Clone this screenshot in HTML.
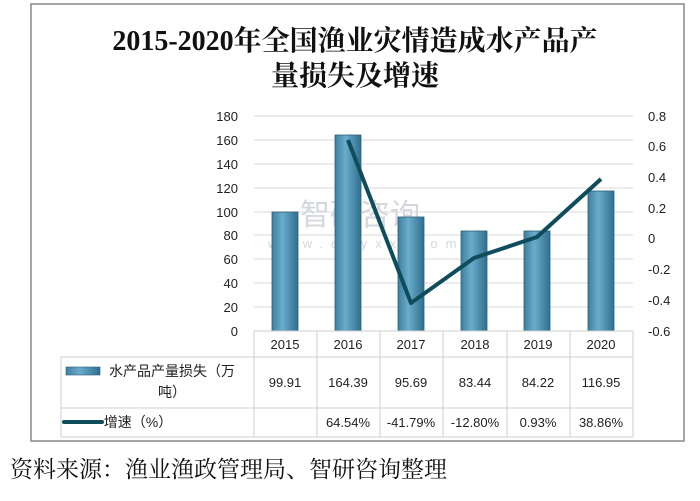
<!DOCTYPE html>
<html><head><meta charset="utf-8"><style>
body{margin:0;width:700px;height:501px;background:#fff;overflow:hidden}
svg{position:absolute;left:0;top:0}
</style></head><body>
<svg width="700" height="501" font-family="Liberation Sans, Noto Sans CJK SC, sans-serif">
<defs><linearGradient id="g" x1="0" x2="1"><stop offset="0" stop-color="#3f7f9f"/><stop offset="0.4" stop-color="#6aaccb"/><stop offset="1" stop-color="#2f6f8f"/></linearGradient></defs>
<rect x="31" y="4" width="653" height="437" fill="#fff" stroke="#888" stroke-width="1.5"/>
<text x="355" y="50" text-anchor="middle" font-size="28" font-weight="bold" font-family="Liberation Serif, Noto Serif CJK SC, serif" fill="#111">2015-2020年全国渔业灾情造成水产品产</text>
<text x="355" y="85" text-anchor="middle" font-size="28" font-weight="bold" font-family="Liberation Serif, Noto Serif CJK SC, serif" fill="#111">量损失及增速</text>
<g stroke="#d9d9d9" stroke-width="1">
<line x1="254" x2="633" y1="116" y2="116"/><line x1="254" x2="633" y1="140" y2="140"/><line x1="254" x2="633" y1="164" y2="164"/><line x1="254" x2="633" y1="188" y2="188"/><line x1="254" x2="633" y1="212" y2="212"/><line x1="254" x2="633" y1="235" y2="235"/><line x1="254" x2="633" y1="259" y2="259"/><line x1="254" x2="633" y1="283" y2="283"/><line x1="254" x2="633" y1="307" y2="307"/>
</g>
<text x="300" y="225" font-size="30" fill="#d4d7de">智研咨询</text>
<text x="268" y="248" font-size="13" fill="#d4d7de" letter-spacing="8">www.chyxx.com</text>
<g fill="url(#g)" stroke="#2c5f78" stroke-width="0.8">
<rect x="272" y="212" width="26" height="119"/>
<rect x="335" y="135" width="26" height="196"/>
<rect x="398" y="217" width="26" height="114"/>
<rect x="461" y="231" width="26" height="100"/>
<rect x="524" y="231" width="26" height="100"/>
<rect x="588" y="191" width="26" height="140"/>
</g>
<polyline points="348,140 411,303 474,258 537,237 601,179" fill="none" stroke="#0f4c5c" stroke-width="4" stroke-linejoin="round"/>
<g font-size="13" fill="#222" text-anchor="end">
<text x="238" y="121">180</text><text x="238" y="145">160</text><text x="238" y="169">140</text><text x="238" y="193">120</text><text x="238" y="217">100</text><text x="238" y="240">80</text><text x="238" y="264">60</text><text x="238" y="288">40</text><text x="238" y="312">20</text><text x="238" y="336">0</text>
</g>
<g font-size="13" fill="#222">
<text x="648" y="121">0.8</text><text x="648" y="151">0.6</text><text x="648" y="182">0.4</text><text x="648" y="213">0.2</text><text x="648" y="243">0</text><text x="648" y="274">-0.2</text><text x="648" y="305">-0.4</text><text x="648" y="336">-0.6</text>
</g>
<g stroke="#cfcfcf" fill="none">
<line x1="254" y1="331" x2="633" y2="331"/>
<line x1="61" y1="357" x2="633" y2="357"/>
<line x1="61" y1="408" x2="633" y2="408"/>
<line x1="61" y1="437" x2="633" y2="437"/>
<line x1="61" y1="357" x2="61" y2="437"/>
<line x1="254" y1="331" x2="254" y2="437"/><line x1="317" y1="331" x2="317" y2="437"/><line x1="380" y1="331" x2="380" y2="437"/><line x1="443" y1="331" x2="443" y2="437"/><line x1="507" y1="331" x2="507" y2="437"/><line x1="570" y1="331" x2="570" y2="437"/><line x1="633" y1="331" x2="633" y2="437"/>
</g>
<g font-size="13" fill="#222" text-anchor="middle">
<text x="285" y="349">2015</text><text x="348" y="349">2016</text><text x="411" y="349">2017</text><text x="475" y="349">2018</text><text x="538" y="349">2019</text><text x="601" y="349">2020</text>
<text x="285" y="387">99.91</text><text x="348" y="387">164.39</text><text x="411" y="387">95.69</text><text x="475" y="387">83.44</text><text x="538" y="387">84.22</text><text x="601" y="387">116.95</text>
<text x="348" y="427">64.54%</text><text x="411" y="427">-41.79%</text><text x="475" y="427">-12.80%</text><text x="538" y="427">0.93%</text><text x="601" y="427">38.86%</text>
<text x="172" y="376" font-size="14">水产品产量损失（万</text><text x="172" y="397" font-size="14">吨）</text>
<text x="138" y="427" font-size="14">增速（%）</text>
</g>
<rect x="66" y="367" width="34" height="8" fill="url(#g)" stroke="#2c5f78" stroke-width="0.6"/>
<line x1="64" y1="422" x2="102" y2="422" stroke="#0f4c5c" stroke-width="4" stroke-linecap="round"/>
<text x="10" y="477" font-size="23" fill="#111" font-family="Liberation Serif, Noto Serif CJK SC, serif">资料来源：渔业渔政管理局、智研咨询整理</text>
</svg>
</body></html>
